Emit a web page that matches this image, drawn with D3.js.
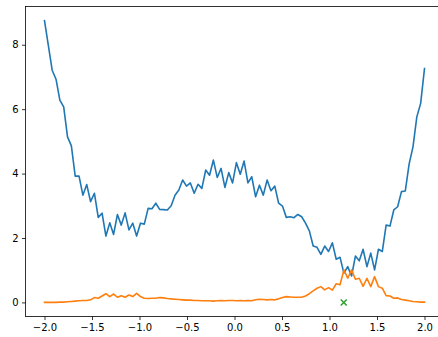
<!DOCTYPE html>
<html>
<head>
<meta charset="utf-8">
<script src="https://cdn.jsdelivr.net/npm/d3@7"></script>
<style>
  html, body { margin: 0; padding: 0; background: #fff; overflow: hidden; }
  svg { display: block; }
  text { font-family: "DejaVu Sans", sans-serif; }
</style>
</head>
<body>
<div id="chart"></div>
<script>
// sample grid: 100 points from -2 to 2
const nPoints = 100;
const xStart = -2, xEnd = 2;

// blue series
const blueValues = [
  8.75, 7.98, 7.21, 6.93, 6.28, 6.07, 5.14, 4.86, 3.92, 3.92,
  3.33, 3.66, 3.13, 3.39, 2.64, 2.77, 2.06, 2.47, 2.11, 2.73,
  2.40, 2.78, 2.25, 2.46, 2.06, 2.46, 2.43, 2.92, 2.91, 3.08,
  2.89, 2.88, 2.87, 3.00, 3.33, 3.49, 3.80, 3.61, 3.71, 3.39,
  3.67, 3.54, 4.11, 3.95, 4.42, 3.88, 4.16, 3.57, 4.03, 3.71,
  4.34, 3.98, 4.39, 3.71, 3.90, 3.28, 3.64, 3.33, 3.80, 3.47,
  3.61, 3.08, 2.99, 2.64, 2.66, 2.63, 2.73, 2.66, 2.46, 2.22,
  1.75, 1.71, 1.49, 1.75, 1.58, 1.85, 1.34, 1.40, 0.91, 1.11,
  0.82, 1.44, 1.29, 1.65, 1.11, 1.53, 1.01, 1.65, 1.58, 2.40,
  2.37, 2.87, 2.97, 3.44, 3.46, 4.30, 4.83, 5.76, 6.18, 7.26
];

// orange series
const orangeValues = [
  0.00, 0.00, 0.00, 0.00, 0.01, 0.01, 0.02, 0.03, 0.04, 0.05,
  0.06, 0.06, 0.08, 0.15, 0.13, 0.20, 0.27, 0.18, 0.26, 0.16,
  0.21, 0.16, 0.23, 0.18, 0.28, 0.18, 0.13, 0.12, 0.13, 0.13,
  0.15, 0.14, 0.12, 0.11, 0.10, 0.09, 0.08, 0.07, 0.07, 0.06,
  0.06, 0.05, 0.05, 0.05, 0.04, 0.05, 0.06, 0.05, 0.06, 0.06,
  0.05, 0.06, 0.05, 0.06, 0.05, 0.08, 0.10, 0.09, 0.08, 0.09,
  0.08, 0.11, 0.15, 0.18, 0.17, 0.16, 0.16, 0.16, 0.20, 0.27,
  0.36, 0.44, 0.49, 0.39, 0.46, 0.38, 0.58, 0.55, 1.01, 0.75,
  1.01, 0.72, 0.75, 0.50, 0.75, 0.49, 0.80, 0.49, 0.44, 0.21,
  0.20, 0.13, 0.14, 0.09, 0.07, 0.05, 0.03, 0.02, 0.01, 0.01
];

// single green marker
const markerPoints = [{x: 1.15, y: 0}];

const xTicks = [-2.0, -1.5, -1.0, -0.5, 0.0, 0.5, 1.0, 1.5, 2.0];
const yTicks = [0, 2, 4, 6, 8];

const width = 438, height = 337;
const margin = {left: 25.5, top: 6.5, right: -5.5, bottom: 20.5};

const xs = d3.range(nPoints).map(i => xStart + (xEnd - xStart) * i / (nPoints - 1));

const svg = d3.select("#chart").append("svg")
  .attr("width", width)
  .attr("height", height);

const x = d3.scaleLinear()
  .domain([-2.2, 2.2])
  .range([margin.left, width - margin.right]);

const y = d3.scaleLinear()
  .domain([-0.4375, 9.1875])
  .range([height - margin.bottom, margin.top]);

const line = d3.line()
  .x(d => x(d[0]))
  .y(d => y(d[1]));

// series lines
svg.append("path")
  .datum(xs.map((v, i) => [v, blueValues[i]]))
  .attr("d", line)
  .attr("fill", "none")
  .attr("stroke", "#1f77b4")
  .attr("stroke-width", 1.6)
  .attr("stroke-linejoin", "round")
  .attr("stroke-linecap", "square");

svg.append("path")
  .datum(xs.map((v, i) => [v, orangeValues[i]]))
  .attr("d", line)
  .attr("fill", "none")
  .attr("stroke", "#ff7f0e")
  .attr("stroke-width", 1.6)
  .attr("stroke-linejoin", "round")
  .attr("stroke-linecap", "square");

// x marker
const mk = svg.append("g").selectAll("g")
  .data(markerPoints).enter().append("g")
  .attr("transform", d => `translate(${x(d.x)},${y(d.y)})`);
mk.append("path")
  .attr("d", "M-3,-3L3,3M-3,3L3,-3")
  .attr("stroke", "#2ca02c")
  .attr("stroke-width", 1.5)
  .attr("fill", "none");

// axes
const xAxis = d3.axisBottom(x)
  .tickValues(xTicks)
  .tickFormat(d3.format(".1f"))
  .tickSizeInner(3.5)
  .tickSizeOuter(0)
  .tickPadding(3.5);

const yAxis = d3.axisLeft(y)
  .tickValues(yTicks)
  .tickFormat(d3.format("d"))
  .tickSizeInner(3.5)
  .tickSizeOuter(0)
  .tickPadding(3.5);

const gx = svg.append("g")
  .attr("transform", `translate(0,${height - margin.bottom})`)
  .call(xAxis);

const gy = svg.append("g")
  .attr("transform", `translate(${margin.left},0)`)
  .call(yAxis);

[gx, gy].forEach(g => {
  g.select(".domain").remove();
  g.selectAll(".tick line").attr("stroke", "#000").attr("stroke-width", 0.8);
  g.selectAll(".tick text")
    .attr("fill", "#000")
    .style("font-size", "10px")
    .style("font-family", "DejaVu Sans, sans-serif");
});

// spines (frame)
svg.append("rect")
  .attr("x", margin.left)
  .attr("y", margin.top)
  .attr("width", (width - margin.right) - margin.left)
  .attr("height", (height - margin.bottom) - margin.top)
  .attr("fill", "none")
  .attr("stroke", "#000")
  .attr("stroke-width", 0.8);
</script>
</body>
</html>
